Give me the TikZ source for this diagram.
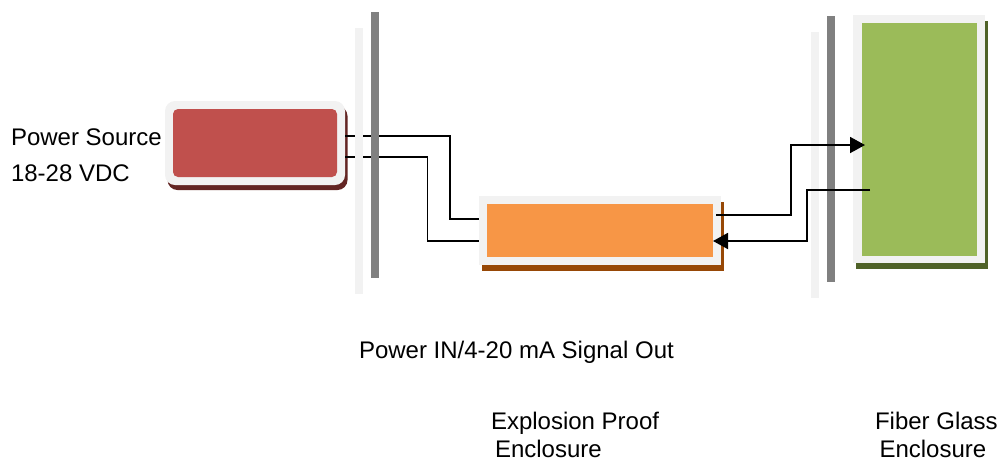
\documentclass[tikz,border=0pt]{standalone}
\usepackage{fontspec}
\setmainfont{Liberation Sans}
\usetikzlibrary{arrows.meta}
\definecolor{panelc}{HTML}{F2F2F2}
\definecolor{barc}{HTML}{808080}
\definecolor{redc}{HTML}{C0504D}
\definecolor{redsh}{HTML}{632523}
\definecolor{orc}{HTML}{F79646}
\definecolor{orsh}{HTML}{974806}
\definecolor{grc}{HTML}{9BBB59}
\definecolor{grsh}{HTML}{4F6228}
\tikzset{
  x=1pt,y=-1pt,
  box/.style={draw=none,inner sep=0pt,outer sep=0pt,minimum width=#1},
  light/.style={box=8pt,fill=panelc,minimum height=266pt},
  dark/.style={box=8pt,fill=barc,minimum height=266pt},
  wire/.style={draw=black,line width=1.9pt},
  arrowwire/.style={wire,-{Triangle[length=15pt,width=16pt]}},
  label/.style={inner sep=0pt,outer sep=0pt,anchor=base west,font=\fontsize{24}{28}\selectfont},
}
\begin{document}
\begin{tikzpicture}
\useasboundingbox (0,0) rectangle (1000,459);
% red source
\node[box=180pt,minimum height=84pt,fill=redsh,rounded corners=10pt] (redshadow) at (257.5,148) {};
\node[box=180pt,minimum height=84pt,fill=panelc,rounded corners=10pt] (redout) at (255,143) {};
\node[box=164pt,minimum height=68pt,fill=redc,rounded corners=5pt] (red) at (255,143) {};
% orange enclosure shadow and frame
\node[box=242pt,minimum height=69pt,fill=orsh] (orshadow) at (603,236) {};
\node[box=242pt,minimum height=69pt,fill=panelc] (orout) at (600,230.5) {};
\node[box=226pt,minimum height=53pt,fill=orc] (orange) at (600,230.5) {};
% left wires
\coordinate (k1) at (450,136);
\coordinate (k2) at (427.5,157);
\draw[wire] ([yshift=7pt]redout.east) -- (k1) |- ([yshift=11.5pt]orout.west);
\draw[wire] ([yshift=-14pt]redout.east) -- (k2) |- ([yshift=-10.5pt]orout.west);
% left panels
\node[light] (lp1) at (359,161) {};
\node[dark] (db1) at (375,145) {};
% right panels
\node[light] (lp2) at (815,165) {};
\node[dark] (db2) at (831,149) {};
% green enclosure
\node[box=132pt,minimum height=248pt,fill=grsh] (grshadow) at (922,144.5) {};
\node[box=132pt,minimum height=248pt,fill=panelc] (grout) at (919,139) {};
\node[box=115pt,minimum height=233pt,fill=grc] (green) at (919.5,139.5) {};
% right wires
\coordinate (k3) at (791,215);
\coordinate (k4) at (807,190);
\draw[arrowwire] ([xshift=3pt,yshift=15.5pt]orange.east) -- (k3) |- ([xshift=3pt,yshift=-5.5pt]green.west);
\draw[arrowwire] ([xshift=8pt,yshift=-50.5pt]green.west) -- (k4) |- ([yshift=-10.5pt]orange.east);
% labels
\node[label] (t1) at (11,145.5) {Power Source};
\node[label] (t2) at (11,181) {18-28 VDC};
\node[label] (t3) at (359,358) {Power IN/4-20 mA Signal Out};
\node[label] (t4) at (491,429) {Explosion Proof};
\node[label] (t5) at (495,457.5) {Enclosure};
\node[label] (t6) at (875,429) {Fiber Glass};
\node[label] (t7) at (879.5,457.5) {Enclosure};
\end{tikzpicture}
\end{document}
